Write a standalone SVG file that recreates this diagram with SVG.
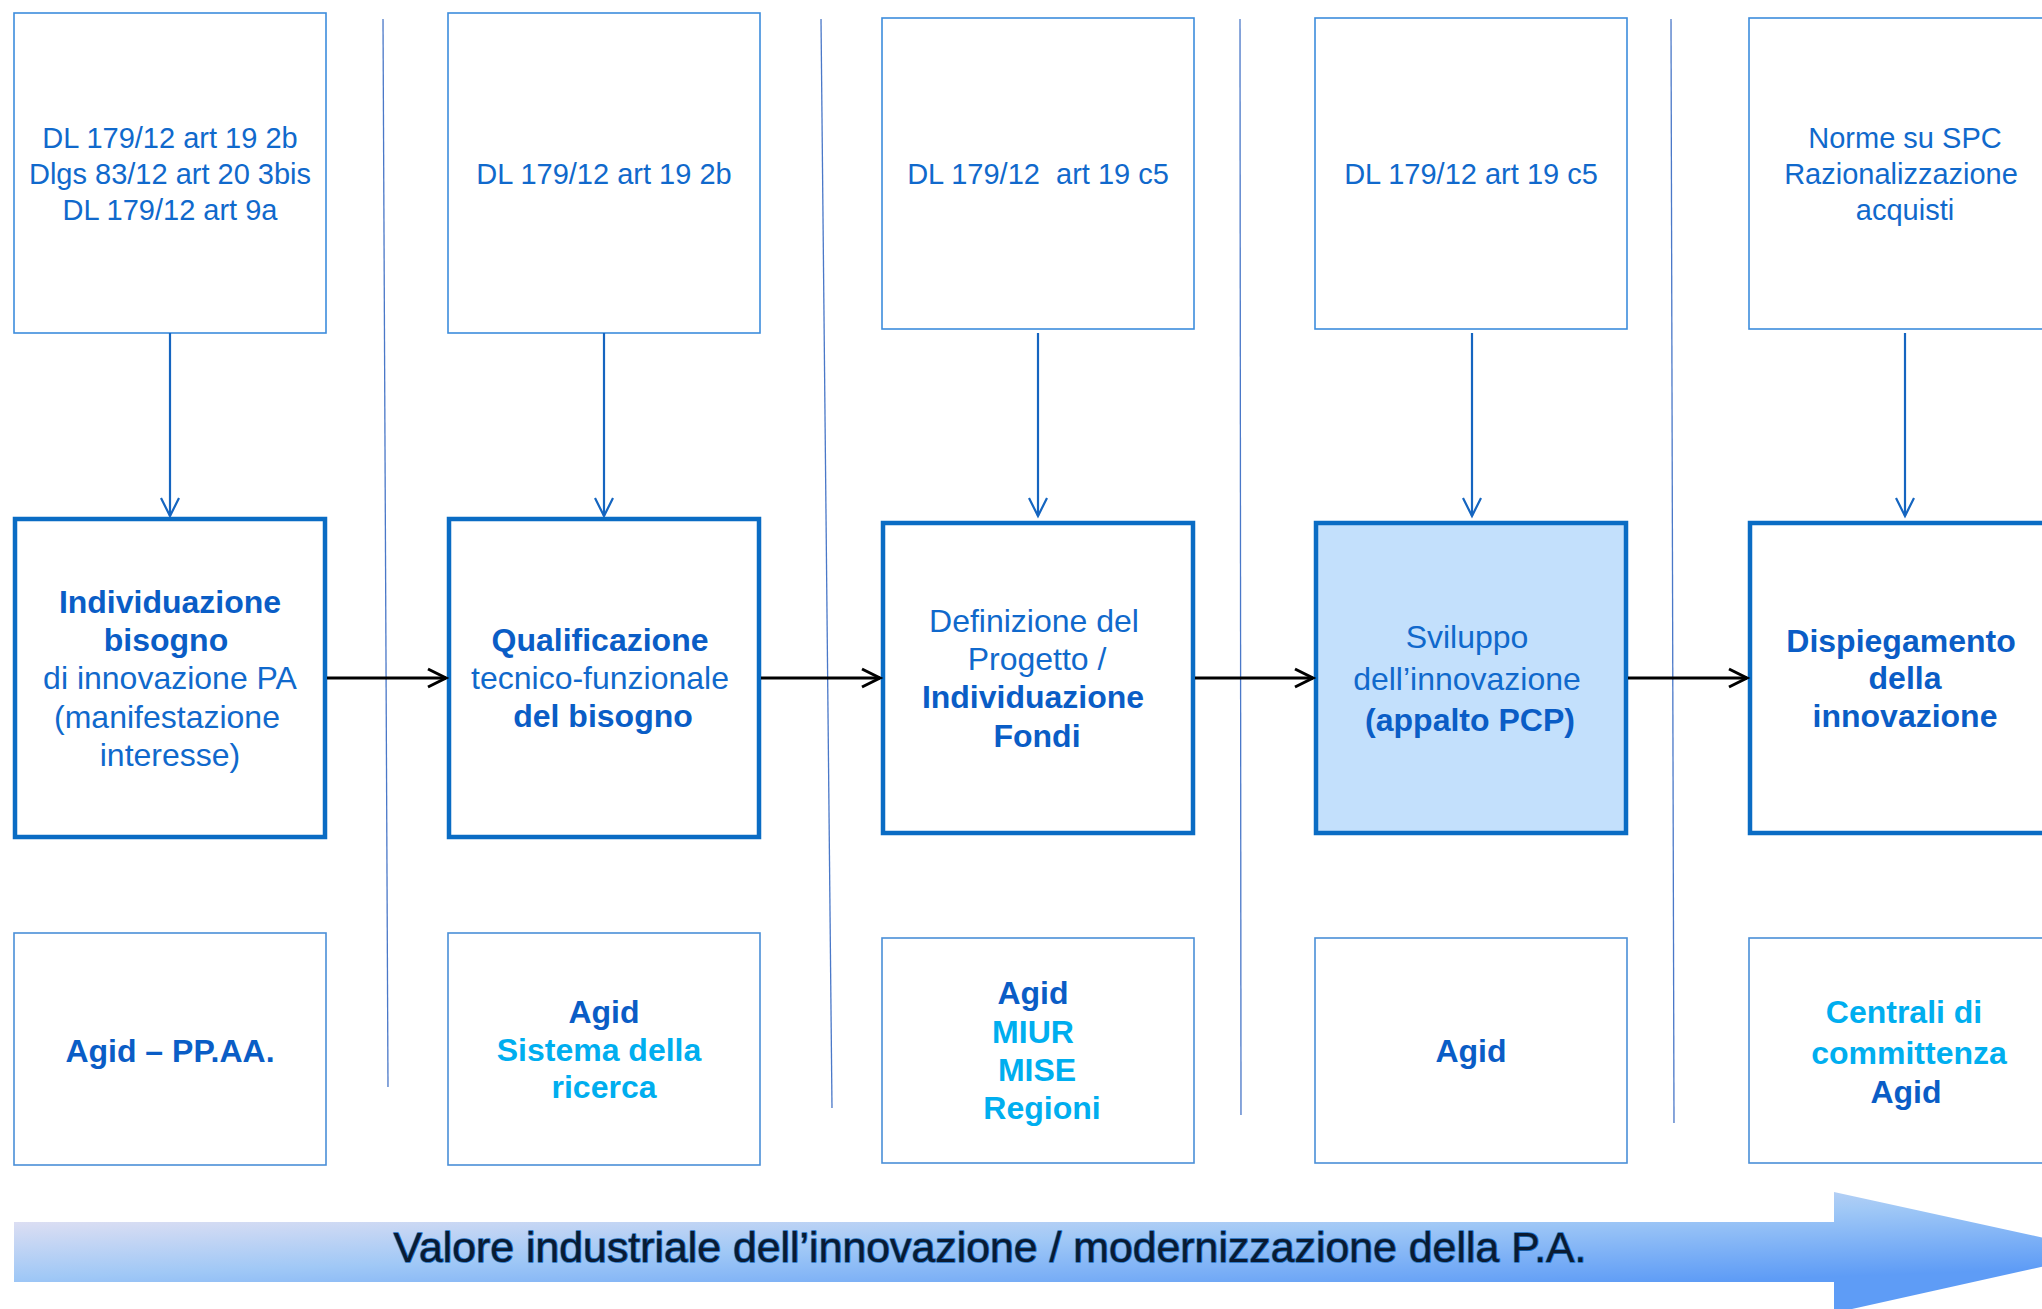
<svg xmlns="http://www.w3.org/2000/svg" width="2042" height="1309" viewBox="0 0 2042 1309">
<style>
.top{fill:#fff;stroke:#3d8ddc;stroke-width:1.6}
.mid{fill:#fff;stroke:#0a6cc4;stroke-width:4.5}
.hl{fill:#c3e0fc}
.bot{fill:#fff;stroke:#4a8fd8;stroke-width:1.6}
.sep{stroke:#4a78c8;stroke-width:1.3;fill:none}
.va{stroke:#1565c0;stroke-width:2.2;fill:none}
.ha{stroke:#000;stroke-width:3.2;fill:none}
text{font-family:"Liberation Sans",Arial,sans-serif;text-anchor:middle}
.t29{font-size:29px;fill:#1069cc}
.r32{font-size:32px;fill:#1069cc}
.b32{font-size:32px;font-weight:bold;fill:#0a5dc6}
.c32{font-size:32px;font-weight:bold;fill:#00aeef}
.ban{font-size:42px;fill:#0b1a30;stroke:#1a6fc4;stroke-width:1.6;paint-order:stroke;stroke-linejoin:round}
</style>
<defs>
<linearGradient id="bg" gradientUnits="userSpaceOnUse" x1="14" y1="1212" x2="19" y2="1345">
<stop offset="0" stop-color="#e6e2f2"/>
<stop offset="0.5" stop-color="#a0c8f6"/>
<stop offset="1" stop-color="#5e9cf6"/>
</linearGradient>
<marker id="mv" markerWidth="24" markerHeight="24" refX="19" refY="10" orient="auto" markerUnits="userSpaceOnUse" viewBox="0 0 24 20">
<path d="M1,1 L19,10 L1,19" fill="none" stroke="#1565c0" stroke-width="2.2"/>
</marker>
<marker id="mh" markerWidth="24" markerHeight="24" refX="19" refY="10" orient="auto" markerUnits="userSpaceOnUse" viewBox="0 0 24 20">
<path d="M1,1 L19,10 L1,19" fill="none" stroke="#000" stroke-width="3"/>
</marker>
</defs>
<rect width="2042" height="1309" fill="#fff"/>

<g id="separators">
<line class="sep" x1="383" y1="19" x2="388" y2="1087"/>
<line class="sep" x1="821" y1="19" x2="832" y2="1108"/>
<line class="sep" x1="1240" y1="19" x2="1241" y2="1115"/>
<line class="sep" x1="1671" y1="19" x2="1674" y2="1123"/>
</g>

<g id="banner">
<path d="M14,1222 L1834,1222 L1834,1192 L2108,1252 L1834,1313 L1834,1282 L14,1282 Z" fill="url(#bg)"/>
<text class="ban" x="990" y="1262" textLength="1193" lengthAdjust="spacingAndGlyphs">Valore industriale dell’innovazione / modernizzazione della P.A.</text>
</g>

<g id="norm1"><rect class="top" x="14" y="13" width="312" height="320"/>
<text class="t29" x="170" y="148">DL 179/12 art 19 2b</text>
<text class="t29" x="170" y="184">Dlgs 83/12 art 20 3bis</text>
<text class="t29" x="170" y="220">DL 179/12 art 9a</text></g>
<g id="norm2"><rect class="top" x="448" y="13" width="312" height="320"/>
<text class="t29" x="604" y="184">DL 179/12 art 19 2b</text></g>
<g id="norm3"><rect class="top" x="882" y="18" width="312" height="311"/>
<text class="t29" x="1038" y="184" xml:space="preserve">DL 179/12  art 19 c5</text></g>
<g id="norm4"><rect class="top" x="1315" y="18" width="312" height="311"/>
<text class="t29" x="1471" y="184">DL 179/12 art 19 c5</text></g>
<g id="norm5"><rect class="top" x="1749" y="18" width="312" height="311"/>
<text class="t29" x="1905" y="148">Norme su SPC</text>
<text class="t29" x="1901" y="184">Razionalizzazione</text>
<text class="t29" x="1905" y="220">acquisti</text></g>

<g id="step1"><rect class="mid" x="15" y="519" width="310" height="318"/>
<text class="b32" x="170" y="613">Individuazione</text>
<text class="b32" x="166" y="651">bisogno</text>
<text class="r32" x="170" y="689">di innovazione PA</text>
<text class="r32" x="167" y="728">(manifestazione</text>
<text class="r32" x="170" y="766">interesse)</text></g>
<g id="step2"><rect class="mid" x="449" y="519" width="310" height="318"/>
<text class="b32" x="600" y="651">Qualificazione</text>
<text class="r32" x="600" y="689">tecnico-funzionale</text>
<text class="b32" x="603" y="727">del bisogno</text></g>
<g id="step3"><rect class="mid" x="883" y="523" width="310" height="310"/>
<text class="r32" x="1034" y="632">Definizione del</text>
<text class="r32" x="1037" y="670">Progetto /</text>
<text class="b32" x="1033" y="708">Individuazione</text>
<text class="b32" x="1037" y="747">Fondi</text></g>
<g id="step4"><rect class="mid hl" x="1316" y="523" width="310" height="310"/>
<text class="r32" x="1467" y="648">Sviluppo</text>
<text class="r32" x="1467" y="690">dell’innovazione</text>
<text class="b32" x="1470" y="731">(appalto PCP)</text></g>
<g id="step5"><rect class="mid" x="1750" y="523" width="310" height="310"/>
<text class="b32" x="1901" y="652">Dispiegamento</text>
<text class="b32" x="1905" y="689">della</text>
<text class="b32" x="1905" y="727">innovazione</text></g>

<g id="actor1"><rect class="bot" x="14" y="933" width="312" height="232"/>
<text class="b32" x="170" y="1062">Agid – PP.AA.</text></g>
<g id="actor2"><rect class="bot" x="448" y="933" width="312" height="232"/>
<text class="b32" x="604" y="1023">Agid</text>
<text class="c32" x="599" y="1061">Sistema della</text>
<text class="c32" x="604" y="1098">ricerca</text></g>
<g id="actor3"><rect class="bot" x="882" y="938" width="312" height="225"/>
<text class="b32" x="1033" y="1004">Agid</text>
<text class="c32" x="1033" y="1043">MIUR</text>
<text class="c32" x="1037" y="1081">MISE</text>
<text class="c32" x="1042" y="1119">Regioni</text></g>
<g id="actor4"><rect class="bot" x="1315" y="938" width="312" height="225"/>
<text class="b32" x="1471" y="1062">Agid</text></g>
<g id="actor5"><rect class="bot" x="1749" y="938" width="312" height="225"/>
<text class="c32" x="1904" y="1023">Centrali di</text>
<text class="c32" x="1909" y="1064">committenza</text>
<text class="b32" x="1906" y="1103">Agid</text></g>

<g id="connectors">
<line class="va" x1="170" y1="333" x2="170" y2="516" marker-end="url(#mv)"/>
<line class="va" x1="604" y1="333" x2="604" y2="516" marker-end="url(#mv)"/>
<line class="va" x1="1038" y1="333" x2="1038" y2="516" marker-end="url(#mv)"/>
<line class="va" x1="1472" y1="333" x2="1472" y2="516" marker-end="url(#mv)"/>
<line class="va" x1="1905" y1="333" x2="1905" y2="516" marker-end="url(#mv)"/>
<line class="ha" x1="327" y1="678" x2="446" y2="678" marker-end="url(#mh)"/>
<line class="ha" x1="761" y1="678" x2="880" y2="678" marker-end="url(#mh)"/>
<line class="ha" x1="1195" y1="678" x2="1313" y2="678" marker-end="url(#mh)"/>
<line class="ha" x1="1628" y1="678" x2="1747" y2="678" marker-end="url(#mh)"/>
</g>
</svg>
